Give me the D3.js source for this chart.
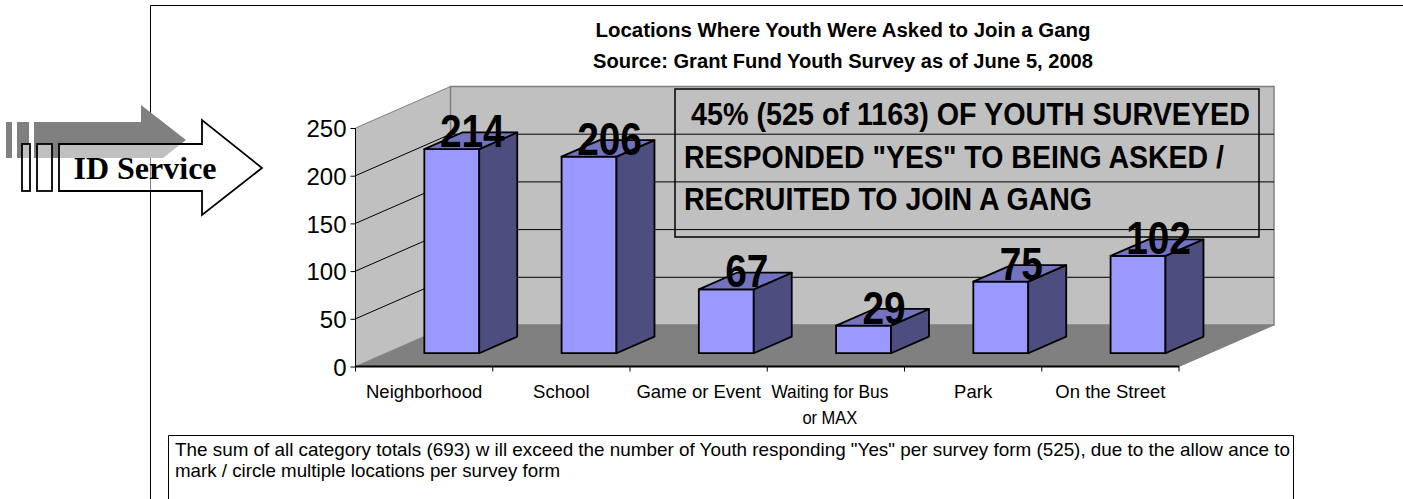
<!DOCTYPE html>
<html>
<head>
<meta charset="utf-8">
<script src="https://cdn.jsdelivr.net/npm/d3@7"></script>
<style>
  html, body { margin: 0; padding: 0; background: #fff; }
  svg { display: block; }
  text { font-family: "Liberation Sans", Arial, sans-serif; fill: #000; }
</style>
</head>
<body>
<svg id="chart" width="1403" height="499"></svg>
<script>
const categories = ["Neighborhood", "School", "Game or Event", "Waiting for Bus or MAX", "Park", "On the Street"];
const values = [214, 206, 67, 29, 75, 102];
const yTicks = [0, 50, 100, 150, 200, 250];
const titleLines = ["Locations Where Youth Were Asked to Join a Gang", "Source: Grant Fund Youth Survey as of June 5, 2008"];
const calloutLines = ['45% (525 of 1163) OF YOUTH SURVEYED', 'RESPONDED "YES" TO BEING ASKED /', 'RECRUITED TO JOIN A GANG'];
const noteLines = ['The sum of all category totals (693) w ill exceed the number of Youth responding "Yes" per survey form (525), due to the allow ance to', 'mark / circle multiple locations per survey form'];

const svg = d3.select("#chart");

// depth of the fake 3d box, and where the bars sit inside it
const DEPTH_X = 95;
const DEPTH_Y = 41.5;
const BAR_FRONT = 0.32;
const BAR_BACK = 0.72;
const BAR_START = 0.28; // fraction of the band
const BAR_WIDTH = 0.4;

const x = d3.scaleBand().domain(categories).range([355.5, 1179]);
const y = d3.scaleLinear().domain([0, 250]).range([366.5, 128]);

// x, y in front plane -> pushed back by depth (0..1)
const pt = (px, py, depth) => [px + depth * DEPTH_X, py - depth * DEPTH_Y];
const poly = (pts) => d3.line()(pts) + "Z";

// outer frame, only top and left show up in the picture
svg.append("path")
  .attr("d", "M150.5,499V5.5H1403")
  .attr("fill", "none")
  .attr("stroke", "#000")
  .attr("stroke-width", 1);

// shadow of the arrow, its lower head is cut off flat
const shadow = svg.append("g").attr("fill", "#808080");
shadow.append("rect").attr("x", 6).attr("y", 122).attr("width", 6).attr("height", 36);
shadow.append("rect").attr("x", 17).attr("y", 122).attr("width", 12).attr("height", 36);
shadow.append("path").attr("d", "M34,122H141V105L186,140L163,158H34Z");

// title
svg.append("g")
  .selectAll("text")
  .data(titleLines)
  .enter()
  .append("text")
  .attr("x", 843)
  .attr("y", (d, i) => 37 + i * 31)
  .attr("text-anchor", "middle")
  .attr("font-size", 20)
  .attr("font-weight", "bold")
  .attr("textLength", (d, i) => (i === 0 ? 495 : 500))
  .attr("lengthAdjust", "spacingAndGlyphs")
  .text((d) => d);

// box walls and floor
const x0 = x.range()[0];
const x1 = x.range()[1];
const yB = y(0);
const yT = y(250);

svg.append("path")
  .attr("d", poly([pt(x0, yB, 0), pt(x0, yB, 1), pt(x1, yB, 1), pt(x1, yB, 0)]))
  .attr("fill", "#808080");
svg.append("path")
  .attr("d", poly([pt(x0, yB, 0), pt(x0, yT, 0), pt(x0, yT, 1), pt(x0, yB, 1)]))
  .attr("fill", "#c0c0c0")
  .attr("stroke", "#808080");
svg.append("path")
  .attr("d", poly([pt(x0, yB, 1), pt(x0, yT, 1), pt(x1, yT, 1), pt(x1, yB, 1)]))
  .attr("fill", "#c0c0c0")
  .attr("stroke", "#808080")
  .attr("stroke-width", 1.5);

// gridlines wrap around side and back wall
svg.append("g")
  .selectAll("path")
  .data(yTicks.slice(1, -1))
  .enter()
  .append("path")
  .attr("d", (d) => d3.line()([pt(x0, y(d), 0), pt(x0, y(d), 1), pt(x1, y(d), 1)]))
  .attr("fill", "none")
  .attr("stroke", "#000")
  .attr("stroke-width", 1);

// front edge of side wall + floor
svg.append("path")
  .attr("d", d3.line()([pt(x0, yT, 0), pt(x0, yB, 0)]))
  .attr("fill", "none")
  .attr("stroke", "#000");
svg.append("path")
  .attr("d", d3.line()([pt(x0, yB, 0), pt(x1, yB, 0)]))
  .attr("fill", "none")
  .attr("stroke", "#000")
  .attr("stroke-width", 1.8);
svg.append("path")
  .attr("d", d3.line()([pt(x1, yB, 0), pt(x1, yB, 1)]))
  .attr("fill", "none")
  .attr("stroke", "#808080");

// axes
const yAxis = d3.axisLeft(y).tickValues(yTicks).tickSize(5).tickSizeOuter(0);
const yG = svg.append("g").attr("transform", `translate(${x0},0)`).call(yAxis);
yG.select(".domain").remove();
yG.selectAll("text")
  .attr("font-size", 24)
  .attr("font-family", '"Liberation Sans", Arial, sans-serif')
  .attr("x", -9)
  .attr("dy", "0.36em");

// x ticks sit on band edges, not centers
svg.append("g")
  .selectAll("line")
  .data(categories.concat(["end"]))
  .enter()
  .append("line")
  .attr("x1", (d, i) => x0 + i * x.bandwidth())
  .attr("x2", (d, i) => x0 + i * x.bandwidth())
  .attr("y1", yB)
  .attr("y2", yB + 5)
  .attr("stroke", "#000");

// x labels, the long one wraps and is squeezed to fit
const xLabels = svg.append("g")
  .selectAll("text")
  .data(categories)
  .enter()
  .append("text")
  .attr("text-anchor", "middle")
  .attr("font-size", 18.5)
  .attr("y", 398);
xLabels.each(function (d) {
  const long = d.length > 15;
  const cx = x(d) + x.bandwidth() / 2 + (long ? -6 : 0);
  const lines = long ? ["Waiting for Bus", "or MAX"] : [d];
  d3.select(this)
    .selectAll("tspan")
    .data(lines)
    .enter()
    .append("tspan")
    .attr("x", cx)
    .attr("dy", (l, i) => (i ? 26 : 0))
    .attr("textLength", (l, i) => (long ? [117, 55][i] : null))
    .attr("lengthAdjust", "spacingAndGlyphs")
    .text((l) => l);
});

// bars
const bars = svg.append("g")
  .selectAll("g")
  .data(categories.map((c, i) => ({ cat: c, val: values[i] })))
  .enter()
  .append("g")
  .attr("stroke", "#000")
  .attr("stroke-width", 1.8)
  .attr("stroke-linejoin", "round");

const barL = (d) => x(d.cat) + x.bandwidth() * BAR_START;
const barR = (d) => barL(d) + x.bandwidth() * BAR_WIDTH;

bars.append("path")
  .attr("fill", "#9999ff")
  .attr("d", (d) => poly([pt(barL(d), yB, BAR_FRONT), pt(barL(d), y(d.val), BAR_FRONT), pt(barR(d), y(d.val), BAR_FRONT), pt(barR(d), yB, BAR_FRONT)]));
bars.append("path")
  .attr("fill", "#4d4d80")
  .attr("d", (d) => poly([pt(barR(d), yB, BAR_FRONT), pt(barR(d), y(d.val), BAR_FRONT), pt(barR(d), y(d.val), BAR_BACK), pt(barR(d), yB, BAR_BACK)]));
bars.append("path")
  .attr("fill", "#7373bf")
  .attr("d", (d) => poly([pt(barL(d), y(d.val), BAR_FRONT), pt(barL(d), y(d.val), BAR_BACK), pt(barR(d), y(d.val), BAR_BACK), pt(barR(d), y(d.val), BAR_FRONT)]));

// value labels, tall and narrow like the original
svg.append("g")
  .selectAll("text")
  .data(values)
  .enter()
  .append("text")
  .attr("x", (d, i) => pt(barL({ cat: categories[i] }), 0, BAR_FRONT)[0] + 48)
  .attr("y", (d) => y(d) - BAR_FRONT * DEPTH_Y - 2)
  .attr("text-anchor", "middle")
  .attr("font-size", 46)
  .attr("font-weight", "bold")
  .attr("textLength", (d) => String(d).length * 21.6)
  .attr("lengthAdjust", "spacingAndGlyphs")
  .text((d) => d);

// callout
svg.append("rect")
  .attr("x", 675).attr("y", 89)
  .attr("width", 584).attr("height", 148)
  .attr("fill", "none")
  .attr("stroke", "#000")
  .attr("stroke-width", 1.5);
svg.append("g")
  .selectAll("text")
  .data(calloutLines)
  .enter()
  .append("text")
  .attr("x", (d, i) => (i === 0 ? 691 : 684))
  .attr("y", (d, i) => 125 + i * 42.5)
  .attr("font-size", 31)
  .attr("font-weight", "bold")
  .attr("textLength", (d, i) => [559, 540, 408][i])
  .attr("lengthAdjust", "spacingAndGlyphs")
  .text((d) => d);

// footnote box
svg.append("path")
  .attr("d", "M168.5,499V435.5H1293.5V499")
  .attr("fill", "none")
  .attr("stroke", "#000")
  .attr("stroke-width", 1);
svg.append("g")
  .selectAll("text")
  .data(noteLines)
  .enter()
  .append("text")
  .attr("x", 175)
  .attr("y", (d, i) => 456 + i * 21)
  .attr("font-size", 18.5)
  .attr("textLength", (d, i) => (i === 0 ? 1115 : 385))
  .attr("lengthAdjust", "spacingAndGlyphs")
  .text((d) => d);

// the ID Service arrow, half see-through white
const arrow = svg.append("g")
  .attr("fill", "#fff")
  .attr("fill-opacity", 0.5)
  .attr("stroke", "#000")
  .attr("stroke-width", 1.8);
arrow.append("rect").attr("x", 22).attr("y", 144).attr("width", 8).attr("height", 47);
arrow.append("rect").attr("x", 37).attr("y", 144).attr("width", 15).attr("height", 47);
arrow.append("path").attr("d", "M59,144H202V120L262,168L202,215V191H59Z");
svg.append("text")
  .attr("x", 145)
  .attr("y", 179)
  .attr("text-anchor", "middle")
  .attr("font-size", 32)
  .attr("font-weight", "bold")
  .style("font-family", '"Liberation Serif", "Times New Roman", serif')
  .text("ID Service");
</script>
</body>
</html>
